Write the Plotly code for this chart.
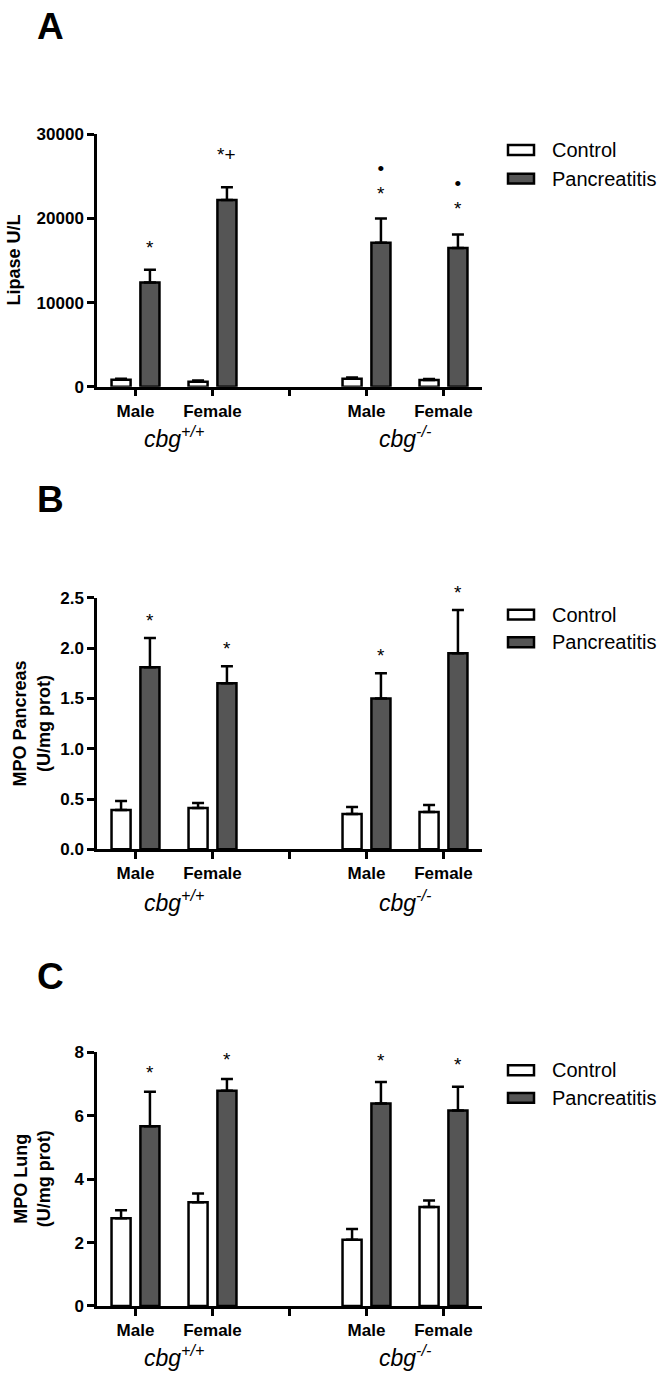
import plotly.graph_objects as go

W, H = 666, 1386
FONT = "Liberation Sans, Arial, sans-serif"

# ---------------- data ----------------
major_positions = [0, 1, 3, 4]
tick_labels = ["Male", "Female", "Male", "Female"]
bar_positions = [0, 1, 3, 4]
genotype_centers = [0.5, 3.5]
genotype_labels = ["<i>cbg</i><sup><i>+/+</i></sup>", "<i>cbg</i><sup><i>-/-</i></sup>"]
series_names = ["Control", "Pancreatitis"]

lipase_control = [820, 600, 950, 800]
lipase_control_err = [120, 130, 150, 120]
lipase_panc = [12400, 22200, 17100, 16500]
lipase_panc_err = [1500, 1500, 2900, 1600]
lipase_marks = ["*", "*+", "•<br>*", "•<br>*"]

mpo_panc_control = [0.39, 0.41, 0.35, 0.37]
mpo_panc_control_err = [0.09, 0.05, 0.07, 0.07]
mpo_panc_panc = [1.81, 1.65, 1.50, 1.95]
mpo_panc_panc_err = [0.29, 0.17, 0.25, 0.43]
mpo_panc_marks = ["*", "*", "*", "*"]

mpo_lung_control = [2.77, 3.27, 2.09, 3.12]
mpo_lung_control_err = [0.25, 0.28, 0.34, 0.21]
mpo_lung_panc = [5.67, 6.79, 6.39, 6.17]
mpo_lung_panc_err = [1.09, 0.37, 0.68, 0.75]
mpo_lung_marks = ["*", "*", "*", "*"]

# ---------------- layout config (pixels) ----------------
X_LEFT, X_RIGHT = 97, 482
BARGAP, BARGROUPGAP = 0.25, 0.34
DARK = "#555555"

panels = [
    dict(letter="A", top=127, bottom=383, rng=[0, 30000], dtick=10000, fmt="d",
         title="Lipase U/L", title_x=14,
         control=lipase_control, control_err=lipase_control_err,
         panc=lipase_panc, panc_err=lipase_panc_err,
         marks=lipase_marks, mark_gap=[24, 35, 27, 28],
         legend_y=[143, 172], letter_y=18, geno_y=434),
    dict(letter="B", top=597, bottom=852, rng=[0, 2.5], dtick=0.5, fmt=".1f",
         title="MPO Pancreas<br>(U/mg prot)", title_x=32,
         control=mpo_panc_control, control_err=mpo_panc_control_err,
         panc=mpo_panc_panc, panc_err=mpo_panc_panc_err,
         marks=mpo_panc_marks, mark_gap=[20, 20, 20, 19],
         legend_y=[614, 642], letter_y=497, geno_y=904),
    dict(letter="C", top=1058, bottom=1315, rng=[0, 8], dtick=2, fmt="d",
         title="MPO Lung<br>(U/mg prot)", title_x=32,
         control=mpo_lung_control, control_err=mpo_lung_control_err,
         panc=mpo_lung_panc, panc_err=mpo_lung_panc_err,
         marks=mpo_lung_marks, mark_gap=[21, 22, 23, 24],
         legend_y=[1076, 1104], letter_y=981, geno_y=1366),
]


def px_x(p):
    return p / W


def px_y(p):
    return 1 - p / H


fig = go.Figure()
annotations = []
shapes = []
slot = (1 - BARGAP) / 2
MARK_FS = 19

for i, p in enumerate(panels):
    sfx = "" if i == 0 else str(i + 1)
    xa, ya = "x" + sfx, "y" + sfx
    for name, vals, errs, fill in [
        (series_names[0], p["control"], p["control_err"], "white"),
        (series_names[1], p["panc"], p["panc_err"], DARK),
    ]:
        fig.add_trace(go.Bar(
            x=bar_positions, y=vals, name=name, showlegend=False,
            marker=dict(color=fill, line=dict(color="black", width=2.5)),
            error_y=dict(type="data", array=errs, arrayminus=[0] * len(errs),
                         symmetric=False, color="black", thickness=2.5, width=6),
            xaxis=xa, yaxis=ya, hoverinfo="skip",
        ))

    fig.update_layout(**{
        "xaxis" + sfx: dict(
            domain=[px_x(X_LEFT), px_x(X_RIGHT)], anchor=ya, range=[-0.5, 4.5],
            tickmode="array", tickvals=major_positions, ticktext=tick_labels,
            showline=True, linecolor="black", linewidth=2.5,
            ticks="outside", ticklen=7, tickwidth=2.5, tickcolor="black",
            minor=dict(dtick=1, tick0=0, ticks="outside", ticklen=7,
                       tickwidth=2.5, tickcolor="black", showgrid=False),
            showgrid=False, zeroline=False, fixedrange=True,
            tickfont=dict(family=FONT, size=17, color="black", weight="bold"),
        ),
        "yaxis" + sfx: dict(
            domain=[px_y(p["bottom"]), px_y(p["top"])], anchor=xa, range=p["rng"],
            dtick=p["dtick"], tick0=0, tickformat=p["fmt"],
            showline=True, linecolor="black", linewidth=2.5,
            ticks="outside", ticklen=7, tickwidth=2.5, tickcolor="black",
            showgrid=False, zeroline=False, fixedrange=True,
            tickfont=dict(family=FONT, size=17, color="black", weight="bold"),
        ),
    })

    # significance marks above pancreatitis bars
    for k, pos in enumerate(bar_positions):
        top = p["panc"][k] + p["panc_err"][k]
        txt = p["marks"][k]
        n_lines = txt.count("<br>") + 1
        shift = p["mark_gap"][k] - 2 + (n_lines - 1) * 0.65 * MARK_FS
        annotations.append(dict(
            x=pos + slot / 2, y=top, xref=xa, yref=ya, text=txt,
            showarrow=False, xanchor="center", yanchor="middle",
            yshift=shift, font=dict(family=FONT, size=MARK_FS, color="black"),
        ))

    # genotype labels
    for c, lab in zip(genotype_centers, genotype_labels):
        annotations.append(dict(
            x=c, y=px_y(p["geno_y"]), xref=xa, yref="paper", text=lab,
            showarrow=False, xanchor="center", yanchor="middle",
            font=dict(family=FONT, size=23, color="black"),
        ))

    # panel letter
    annotations.append(dict(
        x=px_x(50), y=px_y(p["letter_y"]), xref="paper", yref="paper",
        text="<b>%s</b>" % p["letter"], showarrow=False,
        xanchor="center", yanchor="middle",
        font=dict(family=FONT, size=37, color="black"),
    ))

    # y-axis title
    annotations.append(dict(
        x=px_x(p["title_x"]), y=px_y((p["top"] + p["bottom"]) / 2),
        xref="paper", yref="paper", text="<b>%s</b>" % p["title"],
        textangle=-90, showarrow=False, xanchor="center", yanchor="middle",
        font=dict(family=FONT, size=18, color="black"),
    ))

    # legend (boxes + labels)
    for name, fill, ly in zip(series_names, ["white", DARK], p["legend_y"]):
        shapes.append(dict(
            type="rect", xref="paper", yref="paper",
            x0=px_x(508), x1=px_x(534), y0=px_y(ly + 5), y1=px_y(ly - 5),
            fillcolor=fill, line=dict(color="black", width=2.5),
        ))
        annotations.append(dict(
            x=px_x(550), y=px_y(ly), xref="paper", yref="paper", text=name,
            showarrow=False, xanchor="left", yanchor="middle",
            font=dict(family=FONT, size=20, color="black"),
        ))

fig.update_layout(
    width=W, height=H, margin=dict(l=0, r=0, t=0, b=0),
    paper_bgcolor="white", plot_bgcolor="white",
    barmode="group", bargap=BARGAP, bargroupgap=BARGROUPGAP,
    annotations=annotations, shapes=shapes, showlegend=False,
    font=dict(family=FONT, color="black"),
)

PAGE_FIX = (
    "var s=document.createElement('style');"
    "s.textContent='html,body{margin:0;padding:0;overflow:hidden;width:666px;height:1386px;}"
    ".plotly-graph-div{display:block;}';"
    "document.head.appendChild(s);"
)

fig.write_html(
    "out.html",
    config={"displayModeBar": False},
    post_script=PAGE_FIX,
)
